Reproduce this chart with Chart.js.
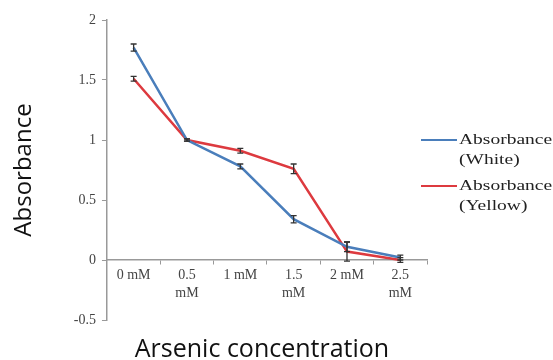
<!DOCTYPE html>
<html>
<head>
<meta charset="utf-8">
<script src="https://cdn.jsdelivr.net/npm/chart.js@4/dist/chart.umd.min.js"></script>
<style>
  html, body { margin: 0; padding: 0; background: #fff; }
  #wrap { width: 553px; height: 360px; position: relative; }
</style>
</head>
<body>
<div id="wrap"><canvas id="absorbance_chart" width="553" height="360"></canvas></div>
<script>
// categories and values
var concentrations = [["0 mM"], ["0.5", "mM"], ["1 mM"], ["1.5", "mM"], ["2 mM"], ["2.5", "mM"]];
var white_values = [1.77, 1.00, 0.78, 0.34, 0.11, 0.02];
var white_errors = [0.03, 0.01, 0.02, 0.03, 0.04, 0.02];
var yellow_values = [1.51, 1.00, 0.91, 0.76, 0.07, 0.00];
var yellow_errors = [0.02, 0.01, 0.02, 0.04, 0.08, 0.02];
var y_ticks = [-0.5, 0, 0.5, 1, 1.5, 2];

var series_names = [["Absorbance", "(White)"], ["Absorbance", "(Yellow)"]];
var colors = ["#4a7ebb", "#dd3a3f"];

// error bars + legend + x title drawn on the canvas
var extras = {
    id: "extras",
    afterDatasetsDraw: function (chart) {
        var ctx = chart.ctx
        var y = chart.scales.y
        var errs = [white_errors, yellow_errors]
        ctx.save()
        ctx.strokeStyle = "#333"
        ctx.lineWidth = 1.3
        chart.data.datasets.forEach(function (ds, i) {
            var meta = chart.getDatasetMeta(i)
            meta.data.forEach(function (pt, j) {
                var e = errs[i][j]
                if (!e) return
                var top = y.getPixelForValue(ds.data[j] + e)
                var bot = y.getPixelForValue(ds.data[j] - e)
                ctx.beginPath()
                ctx.moveTo(pt.x, top); ctx.lineTo(pt.x, bot)
                ctx.moveTo(pt.x - 3, top); ctx.lineTo(pt.x + 3, top)
                ctx.moveTo(pt.x - 3, bot); ctx.lineTo(pt.x + 3, bot)
                ctx.stroke()
            })
        })
        ctx.restore()
    },
    afterDraw: function (chart) {
        var ctx = chart.ctx
        ctx.save()
        // legend (text is stretched sideways like the source image)
        ctx.font = "15px 'Liberation Serif', serif"
        ctx.textBaseline = "middle"
        var ly = [140, 186]
        series_names.forEach(function (name, i) {
            ctx.strokeStyle = colors[i]
            ctx.lineWidth = 2
            ctx.beginPath()
            ctx.moveTo(421, ly[i]); ctx.lineTo(457, ly[i])
            ctx.stroke()
            ctx.fillStyle = "#222"
            ctx.textAlign = "left"
            ctx.save()
            ctx.translate(459, ly[i])
            ctx.scale(1.3, 1)
            ctx.fillText(name[0], 0, 0)
            ctx.fillText(name[1], 0, 20)
            ctx.restore()
        })
        // x axis title
        ctx.font = "25px 'Open Sans', sans-serif"
        ctx.fillStyle = "#111"
        ctx.textAlign = "center"
        ctx.textBaseline = "alphabetic"
        ctx.fillText("Arsenic concentration", 262, 357)
        ctx.restore()
    }
};

var ctx_chart = document.getElementById("absorbance_chart").getContext("2d");
var absorbance_chart = new Chart(ctx_chart, {
    type: "line",
    data: {
        labels: concentrations,
        datasets: [{
            label: "Absorbance (White)",
            data: white_values,
            borderColor: colors[0],
            backgroundColor: colors[0],
            borderWidth: 2.5,
            pointRadius: 0,
            tension: 0
        }, {
            label: "Absorbance (Yellow)",
            data: yellow_values,
            borderColor: colors[1],
            backgroundColor: colors[1],
            borderWidth: 2.5,
            pointRadius: 0,
            tension: 0
        }]
    },
    options: {
        responsive: false,
        animation: false,
        layout: { padding: { left: 10, right: 126, top: 20, bottom: 40 } },
        plugins: {
            legend: { display: false },
            tooltip: { enabled: false }
        },
        scales: {
            x: {
                position: { y: 0 },
                offset: true,
                grid: {
                    offset: true,
                    drawOnChartArea: false,
                    drawTicks: true,
                    tickLength: 4,
                    color: "#999"
                },
                border: { color: "#999", width: 1.5 },
                ticks: {
                    color: "#444",
                    font: { family: "'Liberation Serif', serif", size: 14, lineHeight: 1.3 },
                    padding: 2,
                    maxRotation: 0,
                    autoSkip: false
                }
            },
            y: {
                min: -0.5,
                max: 2,
                afterBuildTicks: function (axis) {
                    axis.ticks = y_ticks.map(function (v) { return { value: v } })
                },
                grid: {
                    drawOnChartArea: false,
                    drawTicks: true,
                    tickLength: 5,
                    color: "#999"
                },
                border: { color: "#999", width: 1.5 },
                ticks: {
                    color: "#444",
                    font: { family: "'Liberation Serif', serif", size: 14 },
                    padding: 6,
                    callback: function (v) { return String(v) }
                },
                title: {
                    display: true,
                    text: "Absorbance",
                    color: "#111",
                    font: { family: "'Open Sans', sans-serif", size: 24 },
                    padding: { top: 0, bottom: 29 }
                }
            }
        }
    },
    plugins: [extras]
});
</script>
</body>
</html>
